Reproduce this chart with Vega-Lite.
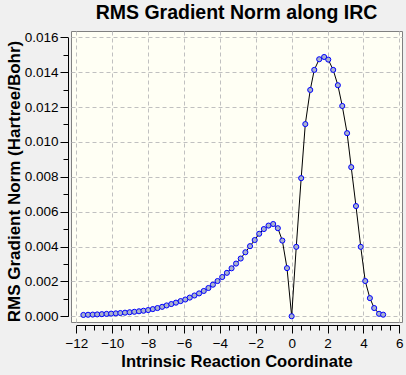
{
  "$schema": "https://vega.github.io/schema/vega-lite/v6.json",
  "autosize": "none",
  "padding": {"left": 71, "top": 31, "right": 4, "bottom": 53},
  "width": 331,
  "height": 291,
  "background": "#F0F0F0",
  "config": {
    "view": {"fill": "#FFFFF4", "stroke": "#808080", "strokeWidth": 1},
    "font": "Liberation Sans"
  },
  "title": {
    "text": "RMS Gradient Norm along IRC",
    "fontSize": 19.5,
    "fontWeight": "bold",
    "font": "Liberation Sans",
    "color": "#000000",
    "anchor": "middle",
    "frame": "group",
    "baseline": "alphabetic",
    "offset": -8
  },
  "data": {
    "values": [
      {"irc": -11.61, "grad": 0.000075},
      {"irc": -11.35, "grad": 0.000085},
      {"irc": -11.09, "grad": 0.000095},
      {"irc": -10.84, "grad": 0.000105},
      {"irc": -10.58, "grad": 0.00012},
      {"irc": -10.32, "grad": 0.000135},
      {"irc": -10.06, "grad": 0.00015},
      {"irc": -9.80, "grad": 0.000165},
      {"irc": -9.55, "grad": 0.000185},
      {"irc": -9.29, "grad": 0.000205},
      {"irc": -9.03, "grad": 0.00023},
      {"irc": -8.77, "grad": 0.000255},
      {"irc": -8.51, "grad": 0.000285},
      {"irc": -8.26, "grad": 0.000315},
      {"irc": -8.00, "grad": 0.000355},
      {"irc": -7.74, "grad": 0.00041},
      {"irc": -7.48, "grad": 0.00047},
      {"irc": -7.22, "grad": 0.00054},
      {"irc": -6.97, "grad": 0.00062},
      {"irc": -6.71, "grad": 0.0007},
      {"irc": -6.45, "grad": 0.00078},
      {"irc": -6.19, "grad": 0.00087},
      {"irc": -5.93, "grad": 0.00096},
      {"irc": -5.68, "grad": 0.00107},
      {"irc": -5.42, "grad": 0.00119},
      {"irc": -5.16, "grad": 0.00131},
      {"irc": -4.90, "grad": 0.00145},
      {"irc": -4.64, "grad": 0.00162},
      {"irc": -4.39, "grad": 0.00181},
      {"irc": -4.13, "grad": 0.00202},
      {"irc": -3.87, "grad": 0.00225},
      {"irc": -3.61, "grad": 0.00249},
      {"irc": -3.35, "grad": 0.00275},
      {"irc": -3.10, "grad": 0.00302},
      {"irc": -2.84, "grad": 0.00331},
      {"irc": -2.58, "grad": 0.00367},
      {"irc": -2.32, "grad": 0.00402},
      {"irc": -2.06, "grad": 0.00437},
      {"irc": -1.81, "grad": 0.00473},
      {"irc": -1.55, "grad": 0.005},
      {"irc": -1.29, "grad": 0.0052},
      {"irc": -1.03, "grad": 0.00529},
      {"irc": -0.77, "grad": 0.00505},
      {"irc": -0.52, "grad": 0.00434},
      {"irc": -0.26, "grad": 0.00276},
      {"irc": 0, "grad": 0},
      {"irc": 0.256, "grad": 0.00398},
      {"irc": 0.53, "grad": 0.00792},
      {"irc": 0.76, "grad": 0.01102},
      {"irc": 1.035, "grad": 0.01298},
      {"irc": 1.26, "grad": 0.01413},
      {"irc": 1.535, "grad": 0.01474},
      {"irc": 1.81, "grad": 0.01487},
      {"irc": 2.04, "grad": 0.01472},
      {"irc": 2.315, "grad": 0.01413},
      {"irc": 2.575, "grad": 0.01325},
      {"irc": 2.82, "grad": 0.01206},
      {"irc": 3.09, "grad": 0.0105},
      {"irc": 3.32, "grad": 0.00855},
      {"irc": 3.585, "grad": 0.00632},
      {"irc": 3.85, "grad": 0.00398},
      {"irc": 4.1, "grad": 0.00202},
      {"irc": 4.36, "grad": 0.00104},
      {"irc": 4.6, "grad": 0.00047},
      {"irc": 4.87, "grad": 0.00014},
      {"irc": 5.1, "grad": 0.00009}
    ]
  },
  "layer": [
    {
      "mark": {"type": "line", "color": "#000000", "strokeWidth": 1},
      "encoding": {
        "x": {
          "field": "irc", "type": "quantitative",
          "scale": {"domain": [-12.3, 6.15], "nice": false, "zero": false},
          "axis": {
            "orient": "bottom",
            "title": "Intrinsic Reaction Coordinate",
            "values": [-12, -10, -8, -6, -4, -2, 0, 2, 4, 6],
            "format": "d",
            "offset": 3,
            "grid": true, "gridColor": "#C0C0C0", "gridDash": [4, 3], "gridWidth": 1, "gridOpacity": 1,
            "domainColor": "#000000", "domainWidth": 1, "domainDash": [0, 5.4, 323, 30],
            "tickColor": "#000000", "tickSize": 8, "tickWidth": 1,
            "labelFont": "Liberation Sans", "labelFontSize": 13.5, "labelColor": "#000000", "labelPadding": 3,
            "labelFlush": false, "labelOverlap": false,
            "titleFont": "Liberation Sans", "titleFontSize": 16.6, "titleFontWeight": "bold", "titleColor": "#000000", "titlePadding": 4
          }
        },
        "y": {
          "field": "grad", "type": "quantitative",
          "scale": {"domain": [-0.00033, 0.01636], "nice": false, "zero": false},
          "axis": {
            "orient": "left",
            "title": "RMS Gradient Norm (Hartree/Bohr)",
            "values": [0, 0.002, 0.004, 0.006, 0.008, 0.01, 0.012, 0.014, 0.016],
            "format": ".3f",
            "offset": 3,
            "grid": true, "gridColor": "#C0C0C0", "gridDash": [4, 3], "gridWidth": 1, "gridOpacity": 1,
            "domainColor": "#000000", "domainWidth": 1, "domainDash": [0, 5.75, 279, 30],
            "tickColor": "#000000", "tickSize": 8, "tickWidth": 1,
            "labelFont": "Liberation Sans", "labelFontSize": 13.5, "labelColor": "#000000", "labelPadding": 2,
            "labelFlush": false, "labelOverlap": false,
            "titleFont": "Liberation Sans", "titleFontSize": 17, "titleFontWeight": "bold", "titleColor": "#000000", "titlePadding": 1,
            "titleY": 150
          }
        }
      }
    },
    {
      "mark": {"type": "point", "shape": "circle", "filled": true, "fill": "#A9B2CC", "stroke": "#0000FF", "strokeWidth": 1, "size": 26, "opacity": 1},
      "encoding": {
        "x": {
          "field": "irc", "type": "quantitative",
          "axis": {
            "orient": "bottom", "title": null, "labels": false, "grid": false, "domain": false,
            "offset": 3,
            "values": [-11.5, -11, -10.5, -9.5, -9, -8.5, -7.5, -7, -6.5, -5.5, -5, -4.5, -3.5, -3, -2.5, -1.5, -1, -0.5, 0.5, 1, 1.5, 2.5, 3, 3.5, 4.5, 5, 5.5],
            "tickColor": "#000000", "tickSize": 5, "tickWidth": 1
          }
        },
        "y": {
          "field": "grad", "type": "quantitative",
          "axis": {
            "orient": "left", "title": null, "labels": false, "grid": false, "domain": false,
            "offset": 3,
            "values": [0.001, 0.003, 0.005, 0.007, 0.009, 0.011, 0.013, 0.015],
            "tickColor": "#000000", "tickSize": 5, "tickWidth": 1
          }
        }
      }
    }
  ],
  "resolve": {"axis": {"x": "independent", "y": "independent"}}
}
